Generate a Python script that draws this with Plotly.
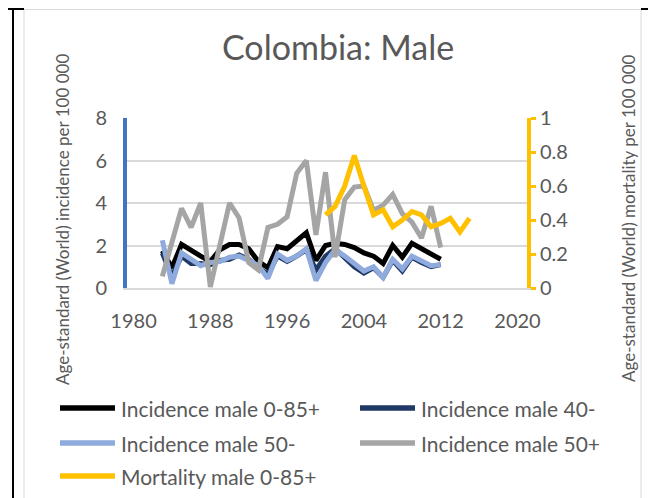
import plotly.graph_objects as go

# data
years = list(range(1983, 2013))
inc_0_85 = [1.75, 0.95, 2.05, 1.75, 1.5, 1.25, 1.8, 2.05, 2.05, 1.85,
            1.25, 0.95, 1.95, 1.85, 2.25, 2.6, 1.3, 2.0, 2.1, 2.05,
            1.9, 1.65, 1.5, 1.15, 2.0, 1.45, 2.1, 1.85, 1.65, 1.35]
inc_40 = [1.65, 0.55, 1.5, 1.15, 1.15, 1.1, 1.3, 1.35, 1.55, 1.35,
          0.95, 0.65, 1.5, 1.25, 1.5, 1.8, 0.85, 1.5, 1.85, 1.4,
          1.0, 0.7, 0.95, 0.5, 1.3, 0.8, 1.45, 1.2, 1.0, 1.1]
inc_50_minus = [2.25, 0.2, 1.65, 1.35, 1.05, 1.2, 1.25, 1.45, 1.5, 1.3,
                1.05, 0.45, 1.6, 1.3, 1.5, 1.85, 0.35, 1.2, 1.8, 1.5,
                1.15, 0.8, 1.0, 0.5, 1.35, 0.9, 1.5, 1.25, 1.05, 1.1]
inc_50_plus = [0.55, 2.15, 3.75, 2.85, 4.0, 0.05, 2.0, 4.0, 3.3, 1.2,
               0.85, 2.85, 3.0, 3.35, 5.4, 6.0, 2.5, 5.45, 1.45, 4.15,
               4.75, 4.8, 3.65, 3.9, 4.4, 3.5, 3.1, 2.35, 3.85, 1.9]
mort_years = list(range(2000, 2016))
mort_0_85 = [0.43, 0.48, 0.6, 0.78, 0.6, 0.43, 0.46, 0.36,
             0.4, 0.45, 0.43, 0.36, 0.38, 0.41, 0.33, 0.41]

names = ["Incidence male 0-85+", "Incidence male 40-", "Incidence male 50-",
         "Incidence male 50+", "Mortality male 0-85+"]
colors = ["#000000", "#203864", "#8FAADC", "#A5A5A5", "#FFC000"]

FONT = "Lato"
GREY_TXT = "#595959"

# the page body adds an 8px margin, so the figure sits 8px in from the corner
OFF = 8
W, H = 656 - OFF, 498 - OFF
# plot area, in window pixels
L, R, T, B = 127, 527, 118, 288
# the year labels sit a little inside the axis lines in the original
X_RANGE = [1979.32, 2020.99]

def px(x):
    return (x - L) / (R - L)

def py(y):
    return (B - y) / (B - T)

fig = go.Figure()
inc_series = [inc_0_85, inc_40, inc_50_minus, inc_50_plus]
for i in range(4):
    fig.add_trace(go.Scatter(x=years, y=inc_series[i], mode="lines", name=names[i],
                             line=dict(color=colors[i], width=5), showlegend=False))
fig.add_trace(go.Scatter(x=mort_years, y=mort_0_85, mode="lines", name=names[4],
                         line=dict(color=colors[4], width=5), yaxis="y2", showlegend=False))

fig.update_layout(
    width=W, height=H, autosize=False,
    margin=dict(l=L - OFF, r=656 - R, t=T - OFF, b=498 - B),
    paper_bgcolor="white", plot_bgcolor="white",
    font=dict(family=FONT, color=GREY_TXT),
    xaxis=dict(range=X_RANGE, tick0=1980, dtick=8, showgrid=False,
               showline=True, linecolor="#D9D9D9", linewidth=1.5, zeroline=False,
               ticks="", tickfont=dict(size=20, color=GREY_TXT), ticklabelstandoff=14),
    yaxis=dict(range=[0, 8], dtick=2, gridcolor="#D9D9D9", gridwidth=1.5,
               showline=True, linecolor="#4472C4", linewidth=4, zeroline=False,
               ticks="", tickfont=dict(size=20, color=GREY_TXT), ticklabelstandoff=12),
    yaxis2=dict(range=[0, 1], dtick=0.2, overlaying="y", side="right", showgrid=False,
                showline=True, linecolor="#FFC000", linewidth=4, zeroline=False,
                ticks="outside", ticklen=5, tickwidth=3, tickcolor="#FFC000",
                tickfont=dict(size=20, color=GREY_TXT)),
)

# title and axis titles
fig.add_annotation(text="Colombia: Male", x=px(338), y=py(47), xref="paper", yref="paper",
                   xanchor="center", yanchor="middle", showarrow=False,
                   font=dict(size=34, color=GREY_TXT))
fig.add_annotation(text="Age-standard (World) incidence per 100 000", x=px(62), y=py(220),
                   xref="paper", yref="paper", xanchor="center", yanchor="middle",
                   showarrow=False, textangle=-90, font=dict(size=17, color=GREY_TXT))
fig.add_annotation(text="Age-standard (World) mortality per 100 000", x=px(628), y=py(218),
                   xref="paper", yref="paper", xanchor="center", yanchor="middle",
                   showarrow=False, textangle=-90, font=dict(size=17, color=GREY_TXT))

# legend, two columns
col_x = [60, 360]
row_y = [408, 443, 476]
for i, nm in enumerate(names):
    cx = col_x[i % 2]
    ry = row_y[i // 2]
    fig.add_shape(type="line", xref="paper", yref="paper",
                  x0=px(cx), x1=px(cx + 55), y0=py(ry), y1=py(ry),
                  line=dict(color=colors[i], width=5.5))
    fig.add_annotation(text=nm, x=px(cx + 59), y=py(ry), xref="paper", yref="paper",
                       xanchor="left", yanchor="middle", showarrow=False,
                       font=dict(size=21, color=GREY_TXT))

# chart border and the table cell lines around it
fig.add_shape(type="rect", xref="paper", yref="paper",
              x0=px(24), x1=px(641), y0=py(OFF + 1.5), y1=py(510),
              line=dict(color="#D9D9D9", width=1), layer="below")
for x0, y0, x1, y1 in [(13, OFF, 13, 498), (OFF, OFF + 1, 24, OFF + 1),
                       (641, OFF + 1, 656, OFF + 1), (653, OFF, 653, 498)]:
    fig.add_shape(type="line", xref="paper", yref="paper",
                  x0=px(x0), x1=px(x1), y0=py(y0), y1=py(y1),
                  line=dict(color="black", width=2))

fig.write_html("out.html")
